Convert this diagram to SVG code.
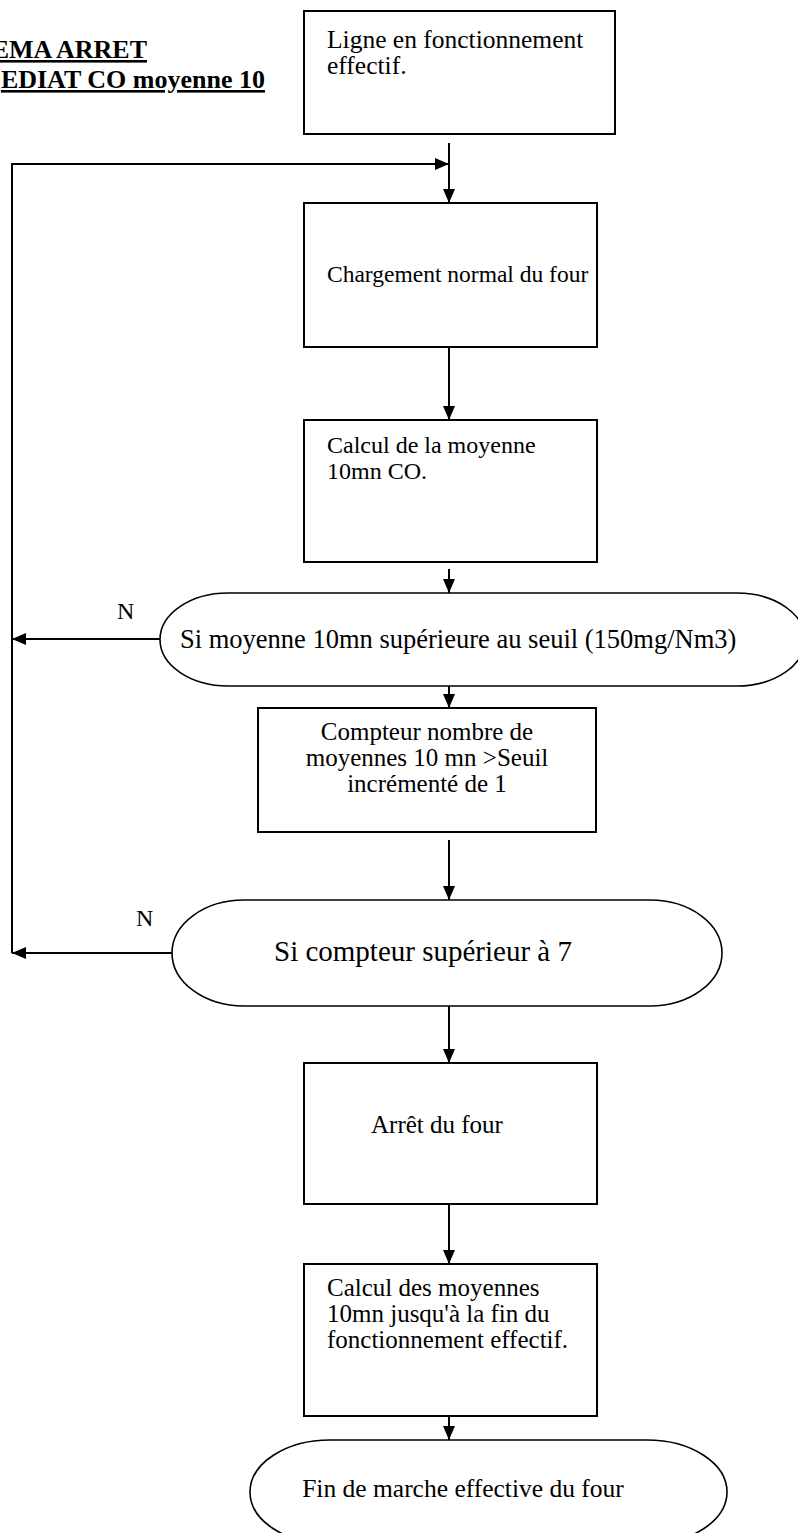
<svg xmlns="http://www.w3.org/2000/svg" width="798" height="1533" viewBox="0 0 798 1533">
<style>
.box{fill:#fff;stroke:#000;stroke-width:2}
.term{fill:#fff;stroke:#000;stroke-width:1.6}
.t{font-family:"Liberation Serif","Times New Roman",serif;font-size:24px;fill:#000}
.title{font-family:"Liberation Serif","Times New Roman",serif;font-size:26px;font-weight:bold;text-decoration:underline;fill:#000}
.c{stroke:#000;stroke-width:2;fill:none}
</style>
<defs>
<marker id="ah" markerUnits="userSpaceOnUse" markerWidth="14" markerHeight="12" refX="14" refY="6" orient="auto">
<path d="M0,0 L14,6 L0,12 Z" fill="#000"/>
</marker>
</defs>
<rect width="798" height="1533" fill="#fff"/>
<g id="title">
<text class="title" x="147" y="58" text-anchor="end">EMA ARRET</text>
<text class="title" x="265" y="88" text-anchor="end">EDIAT CO moyenne 10</text>
</g>
<g id="connectors">
<line class="c" x1="449" y1="143" x2="449" y2="203" marker-end="url(#ah)"/>
<polyline class="c" points="12,953 12,164 449,164" marker-end="url(#ah)"/>
<line class="c" x1="449" y1="347" x2="449" y2="420" marker-end="url(#ah)"/>
<line class="c" x1="449" y1="569" x2="449" y2="593" marker-end="url(#ah)"/>
<line class="c" x1="160" y1="639" x2="12" y2="639" marker-end="url(#ah)"/>
<line class="c" x1="449" y1="686" x2="449" y2="708" marker-end="url(#ah)"/>
<line class="c" x1="449" y1="840" x2="449" y2="900" marker-end="url(#ah)"/>
<line class="c" x1="172" y1="953" x2="12" y2="953" marker-end="url(#ah)"/>
<line class="c" x1="449" y1="1006" x2="449" y2="1063" marker-end="url(#ah)"/>
<line class="c" x1="449" y1="1204" x2="449" y2="1264" marker-end="url(#ah)"/>
<line class="c" x1="449" y1="1416" x2="449" y2="1440" marker-end="url(#ah)"/>
<text class="t" x="117" y="619">N</text>
<text class="t" x="136" y="926">N</text>
</g>
<g id="n1">
<rect class="box" x="304" y="11" width="311" height="123"/>
<text class="t" x="327" y="48" style="font-size:25.5px">Ligne en fonctionnement</text>
<text class="t" x="327" y="74" style="font-size:25.5px">effectif.</text>
</g>
<g id="n2">
<rect class="box" x="304" y="203" width="293" height="144"/>
<text class="t" x="327" y="282" style="font-size:23.5px">Chargement normal du four</text>
</g>
<g id="n3">
<rect class="box" x="304" y="420" width="293" height="142"/>
<text class="t" x="327" y="453">Calcul de la moyenne</text>
<text class="t" x="327" y="479">10mn CO.</text>
</g>
<g id="n4">
<rect class="term" x="160" y="593" width="645" height="93" rx="68" ry="46.5"/>
<text class="t" x="180" y="648" style="font-size:26.5px">Si moyenne 10mn supérieure au seuil (150mg/Nm3)</text>
</g>
<g id="n5">
<rect class="box" x="258" y="708" width="338" height="124"/>
<text class="t" x="427" y="740" text-anchor="middle" style="font-size:25px">Compteur nombre de</text>
<text class="t" x="427" y="766" text-anchor="middle" style="font-size:25px">moyennes 10 mn &gt;Seuil</text>
<text class="t" x="427" y="792" text-anchor="middle" style="font-size:25px">incrémenté de 1</text>
</g>
<g id="n6">
<rect class="term" x="172" y="900" width="550" height="106" rx="72" ry="53"/>
<text class="t" x="274" y="961" style="font-size:29px">Si compteur supérieur à 7</text>
</g>
<g id="n7">
<rect class="box" x="304" y="1063" width="293" height="141"/>
<text class="t" x="371" y="1133" style="font-size:25px">Arrêt du four</text>
</g>
<g id="n8">
<rect class="box" x="304" y="1264" width="293" height="152"/>
<text class="t" x="327" y="1296" style="font-size:25px">Calcul des moyennes</text>
<text class="t" x="327" y="1322" style="font-size:25px">10mn jusqu'à la fin du</text>
<text class="t" x="327" y="1348" style="font-size:25px">fonctionnement effectif.</text>
</g>
<g id="n9">
<rect class="term" x="250" y="1440" width="477" height="104" rx="80" ry="52"/>
<text class="t" x="463" y="1497" text-anchor="middle" style="font-size:25.5px">Fin de marche effective du four</text>
</g>
</svg>
